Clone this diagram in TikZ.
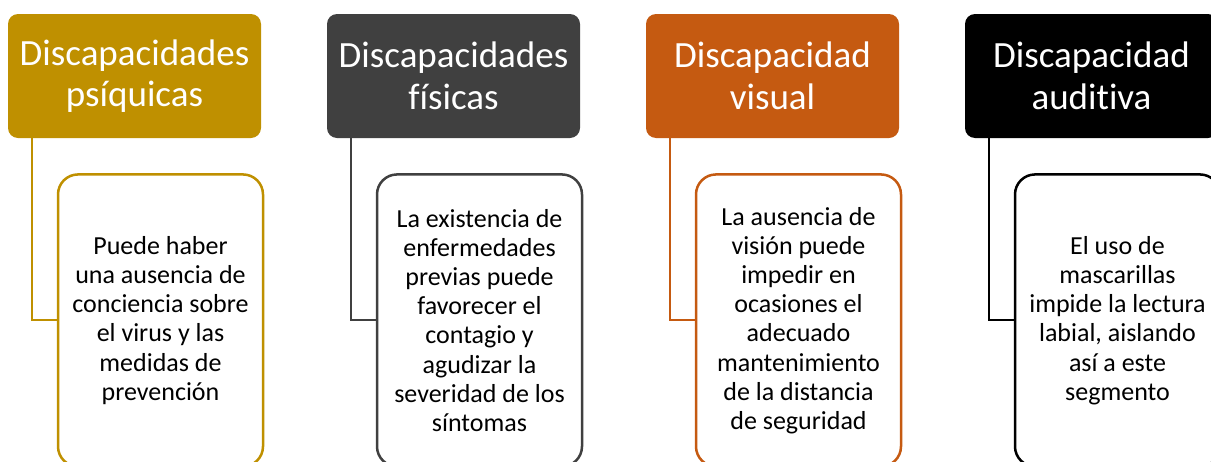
\documentclass[tikz,border=0pt]{standalone}
\usepackage{fontspec}
\setmainfont{Carlito}[Ligatures=NoCommon]
\usetikzlibrary{positioning}
\definecolor{discgold}{HTML}{BF9000}
\definecolor{discgray}{HTML}{404040}
\definecolor{discorange}{HTML}{C55A11}
\definecolor{discblack}{HTML}{000000}
\begin{document}
\begin{tikzpicture}[x=1pt,y=-1pt,
  headbox/.style={rounded corners=10pt, minimum width=253pt, minimum height=124pt,
    inner sep=0pt, align=center, text=white, font=\fontsize{37}{41.5}\selectfont},
  bodybox/.style={draw, line width=2.5pt, fill=white, rounded corners=20pt,
    minimum width=205pt, minimum height=292pt, inner sep=0pt, align=center,
    font=\fontsize{26}{29.2}\selectfont},
  link/.style={line width=2pt}]
\clip (0,0) rectangle (1211,461);
% one column per kind of disability
\foreach \i/\col/\headtext/\bodytext in {
  0/discgold/{Discapacidades\\psíquicas}/{Puede haber\\una ausencia de\\conciencia sobre\\el virus y las\\medidas de\\prevención},
  1/discgray/{Discapacidades\\físicas}/{La existencia de\\enfermedades\\previas puede\\favorecer el\\contagio y\\agudizar la\\severidad de los\\síntomas},
  2/discorange/{Discapacidad\\visual}/{La ausencia de\\visión puede\\impedir en\\ocasiones el\\adecuado\\mantenimiento\\de la distancia\\de seguridad},
  3/discblack/{Discapacidad\\auditiva}/{El uso de\\mascarillas\\impide la lectura\\labial, aislando\\así a este\\segmento}} {
  \node[headbox, fill=\col] (head\i) at (134.5+319*\i, 76) {\headtext};
  \node[bodybox, draw=\col, below=35pt of head\i, xshift=26pt] (body\i) {\bodytext};
  \draw[link, \col] ([xshift=24pt]head\i.south west) |- (body\i.west);
}
\end{tikzpicture}
\end{document}
